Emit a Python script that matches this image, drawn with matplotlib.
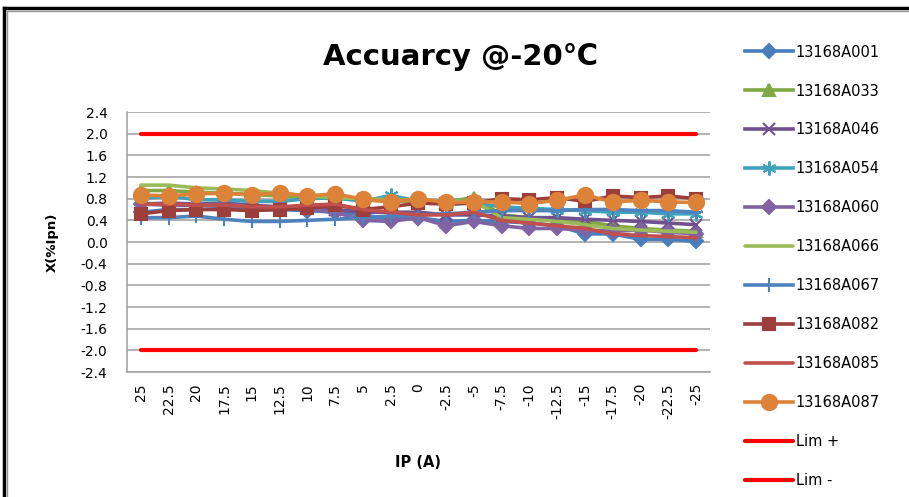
import numpy as np
import matplotlib
matplotlib.use("Agg")
import matplotlib.pyplot as plt
from matplotlib.lines import Line2D

plt.rcParams['font.family'] = ['DejaVu Sans', 'Noto Sans CJK SC']

# 电流点 (A)
ip_labels = ['25', '22.5', '20', '17.5', '15', '12.5', '10', '7.5', '5', '2.5', '0',
             '-2.5', '-5', '-7.5', '-10', '-12.5', '-15', '-17.5', '-20', '-22.5', '-25']
y_ticks = [-2.4, -2.0, -1.6, -1.2, -0.8, -0.4, 0.0, 0.4, 0.8, 1.2, 1.6, 2.0, 2.4]

a001 = [0.55, 0.60, 0.60, 0.62, 0.60, 0.60, 0.58, 0.55, 0.50, 0.42, 0.45, 0.38, 0.40,
        0.38, 0.35, 0.30, 0.15, 0.15, 0.05, 0.05, 0.01]
a033 = [0.95, 0.95, 0.92, 0.90, 0.88, 0.85, 0.82, 0.80, 0.78, 0.75, 0.76, 0.74, 0.82,
        0.50, 0.45, 0.42, 0.38, 0.30, 0.25, 0.22, 0.20]
a046 = [0.70, 0.72, 0.70, 0.72, 0.68, 0.65, 0.62, 0.60, 0.55, 0.55, 0.55, 0.50, 0.50,
        0.48, 0.45, 0.45, 0.42, 0.40, 0.38, 0.35, 0.32]
a054 = [0.80, 0.85, 0.78, 0.78, 0.75, 0.75, 0.80, 0.82, 0.75, 0.86, 0.75, 0.70, 0.72,
        0.65, 0.62, 0.60, 0.58, 0.55, 0.55, 0.52, 0.52]
a060 = [0.70, 0.68, 0.68, 0.70, 0.66, 0.62, 0.60, 0.55, 0.40, 0.38, 0.45, 0.30, 0.38,
        0.30, 0.25, 0.25, 0.22, 0.20, 0.22, 0.18, 0.15]
a066 = [1.05, 1.05, 1.00, 0.98, 0.95, 0.90, 0.85, 0.82, 0.80, 0.78, 0.78, 0.75, 0.75,
        0.45, 0.42, 0.38, 0.32, 0.25, 0.22, 0.20, 0.18]
a067 = [0.45, 0.45, 0.48, 0.42, 0.38, 0.38, 0.40, 0.42, 0.45, 0.48, 0.50, 0.52, 0.55,
        0.58, 0.58, 0.58, 0.60, 0.60, 0.58, 0.58, 0.55]
a082 = [0.52, 0.58, 0.60, 0.60, 0.58, 0.60, 0.62, 0.68, 0.60, 0.65, 0.72, 0.70, 0.72,
        0.80, 0.78, 0.82, 0.75, 0.85, 0.82, 0.85, 0.80]
a085 = [0.70, 0.70, 0.68, 0.68, 0.65, 0.65, 0.68, 0.70, 0.60, 0.55, 0.50, 0.50, 0.55,
        0.40, 0.35, 0.30, 0.25, 0.15, 0.12, 0.10, 0.08]
a087 = [0.87, 0.85, 0.89, 0.90, 0.87, 0.91, 0.85, 0.89, 0.79, 0.74, 0.80, 0.73, 0.74,
        0.74, 0.71, 0.77, 0.87, 0.74, 0.77, 0.74, 0.73]
lim_plus = [2.0] * 21
lim_minus = [-2.0] * 21

series = [
    ('13168A001', a001, '#4A7EBB', 'D', 7),
    ('13168A033', a033, '#7FA843', '^', 9),
    ('13168A046', a046, '#70508F', 'x', 8),
    ('13168A054', a054, '#3FA2BB', (6, 2, 0), 10),
    ('13168A060', a060, '#8064A2', 'D', 7),
    ('13168A066', a066, '#9BBB59', None, 0),
    ('13168A067', a067, '#4F81BD', '+', 10),
    ('13168A082', a082, '#9C3E3B', 's', 9),
    ('13168A085', a085, '#C0504D', None, 0),
    ('13168A087', a087, '#DD8339', 'o', 11),
    ('Lim +', lim_plus, '#FF0000', None, 0),
    ('Lim -', lim_minus, '#FF0000', None, 0),
]

fig = plt.figure(figsize=(9.09, 4.97), dpi=100)
ax = fig.add_axes([0.1397, 0.2515, 0.6413, 0.5231])

x = np.arange(len(ip_labels))
for name, vals, col, mk, ms in series:
    lw = 3.0 if name.startswith('Lim') else 2.6
    if mk is None:
        ax.plot(x, vals, color=col, lw=lw, label=name, solid_capstyle='round')
    else:
        ax.plot(x, vals, color=col, lw=lw, marker=mk, markersize=ms,
                markeredgewidth=1.5, markeredgecolor=col, markerfacecolor=col, label=name)

ax.set_xlim(-0.5, len(ip_labels) - 0.5)
ax.set_ylim(-2.4, 2.4)
ax.set_yticks(y_ticks)
ax.set_yticklabels([f'{v:.1f}' for v in y_ticks], fontsize=10)
ax.set_xticks(x)
ax.set_xticklabels(ip_labels, rotation=90, fontsize=10)
ax.tick_params(axis='y', length=0, pad=14)
ax.tick_params(axis='x', length=0, pad=8)
ax.grid(axis='y', color='#A6A6A6', lw=1.2)
ax.set_axisbelow(True)
for s in ['top', 'right']:
    ax.spines[s].set_visible(False)
for s in ['left', 'bottom']:
    ax.spines[s].set_color('#A6A6A6')
    ax.spines[s].set_linewidth(1.2)

ax.set_ylabel('X(%Ipn)', fontsize=9.5, fontweight='bold', labelpad=16)
ax.set_xlabel('IP (A)', fontsize=10.5, fontweight='bold', labelpad=26)
fig.text(0.507, 0.885, 'Accuarcy @-20℃', fontsize=21, fontweight='bold',
         ha='center', va='center')

fig.legend(loc='upper left', bbox_to_anchor=(0.813, 0.922), frameon=False,
           fontsize=10.5, handlelength=3.3, handletextpad=0.2, labelspacing=1.64,
           borderaxespad=0)

# 外框
fig.add_artist(Line2D([0.004, 1.0], [0.984, 0.984], color='black', lw=2.5,
                      transform=fig.transFigure))
fig.add_artist(Line2D([0.004, 0.004], [0.0, 0.984], color='black', lw=2.5,
                      transform=fig.transFigure))
fig.add_artist(Line2D([0.008, 1.0], [0.977, 0.977], color='#9A9A9A', lw=1,
                      transform=fig.transFigure))
fig.add_artist(Line2D([0.008, 0.008], [0.0, 0.977], color='#9A9A9A', lw=1,
                      transform=fig.transFigure))

fig.savefig('out.png', dpi=100)
